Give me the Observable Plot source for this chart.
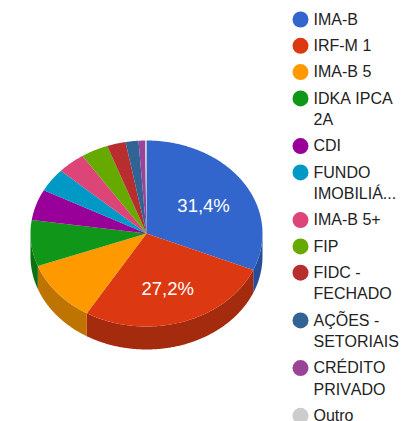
<!DOCTYPE html>
<html>
<head>
<meta charset="utf-8">
<script src="https://cdn.jsdelivr.net/npm/d3@7"></script>
<script src="https://cdn.jsdelivr.net/npm/@observablehq/plot@0.6"></script>
<style>
html,body{margin:0;padding:0;background:#fff;overflow:hidden}
svg{display:block;font-kerning:none}
</style>
</head>
<body>
<div id="chart"></div>
<script>
const categories = ["IMA-B","IRF-M 1","IMA-B 5","IDKA IPCA 2A","CDI","FUNDO IMOBILIÁ...","IMA-B 5+","FIP","FIDC - FECHADO","AÇÕES - SETORIAIS","CRÉDITO PRIVADO","Outro"];
const legendLines = [["IMA-B"],["IRF-M 1"],["IMA-B 5"],["IDKA IPCA","2A"],["CDI"],["FUNDO","IMOBILIÁ..."],["IMA-B 5+"],["FIP"],["FIDC -","FECHADO"],["AÇÕES -","SETORIAIS"],["CRÉDITO","PRIVADO"],["Outro"]];
const values = [31.4,27.2,10.7,8.0,5.4,4.1,3.9,3.8,2.6,1.8,0.9,0.2];
const colors = ["#3366cc","#dc3912","#ff9900","#109618","#990099","#0099c6","#dd4477","#66aa00","#b82e2e","#316395","#994499","#cccccc"];
const sideColors = ["#264d99","#a52b0e","#bf7300","#0c7112","#730073","#007394","#a63359","#4d8000","#8a2323","#254a70","#733373","#999999"];

const cx = 146, cy = 233, rx = 116, ry = 93, depth = 23;
const W = 402, H = 421;
const rad = d => d * Math.PI / 180;
const px = a => cx + rx * Math.sin(rad(a));
const py = a => cy - ry * Math.cos(rad(a));

let cum = 0;
const slices = values.map((v, i) => {
  const a0 = cum * 3.6; cum += v; const a1 = cum * 3.6;
  return {name: categories[i], value: v, a0, a1, fill: colors[i], side: sideColors[i]};
});
const arcAngles = (a0, a1) => {
  const n = Math.max(2, Math.ceil((a1 - a0) / 0.5));
  return d3.range(n + 1).map(k => a0 + (a1 - a0) * k / n);
};

const topPts = slices.flatMap(s => [
  {z: s.name, x: cx, y: cy, fill: s.fill},
  ...arcAngles(s.a0, s.a1).map(a => ({z: s.name, x: px(a), y: py(a), fill: s.fill}))
]);
const sidePts = slices.filter(s => s.a1 > 90 && s.a0 < 270).flatMap(s => {
  const as = arcAngles(Math.max(s.a0, 90), Math.min(s.a1, 270));
  return [
    ...as.map(a => ({z: s.name, x: px(a), y: py(a), fill: s.side})),
    ...as.slice().reverse().map(a => ({z: s.name, x: px(a), y: py(a) + depth, fill: s.side}))
  ];
});
const pctLabels = slices.filter(s => s.value >= 20).map(s => {
  const m = (s.a0 + s.a1) / 2;
  return {x: cx + 0.59 * rx * Math.sin(rad(m)), y: cy - 0.6 * ry * Math.cos(rad(m)), text: s.value.toFixed(1).replace(".", ",") + "%"};
});

const legendTop = 19, rowGap = 26.3, lineGap = 21.4;
let ly = legendTop;
const legendDots = [], legendText = [];
legendLines.forEach((lines, i) => {
  legendDots.push({x: 300, y: ly, fill: colors[i]});
  lines.forEach((t, j) => legendText.push({x: 313, y: ly + j * lineGap, text: t}));
  ly += rowGap + (lines.length - 1) * lineGap;
});

const chart = Plot.plot({
  width: W, height: H,
  margin: 0,
  x: {domain: [0, W], range: [0, W], axis: null},
  y: {domain: [0, H], range: [0, H], axis: null},
  style: {fontFamily: "Liberation Sans, Arial, sans-serif", background: "transparent"},
  marks: [
    Plot.line(sidePts, {x: "x", y: "y", z: "z", fill: "fill", stroke: "none", curve: "linear"}),
    Plot.line(topPts, {x: "x", y: "y", z: "z", fill: "fill", stroke: "none", curve: "linear"}),
    Plot.text(pctLabels, {x: "x", y: "y", dy: 3, text: "text", fill: "#ffffff", fontSize: 18.5, lineAnchor: "middle"}),
    Plot.dot(legendDots, {x: "x", y: "y", r: 8, fill: "fill", stroke: "none"}),
    Plot.text(legendText, {x: "x", y: "y", text: "text", fill: "#222222", fontSize: 16, textAnchor: "start", lineAnchor: "middle"})
  ]
});
document.getElementById("chart").append(chart);
</script>
</body>
</html>
